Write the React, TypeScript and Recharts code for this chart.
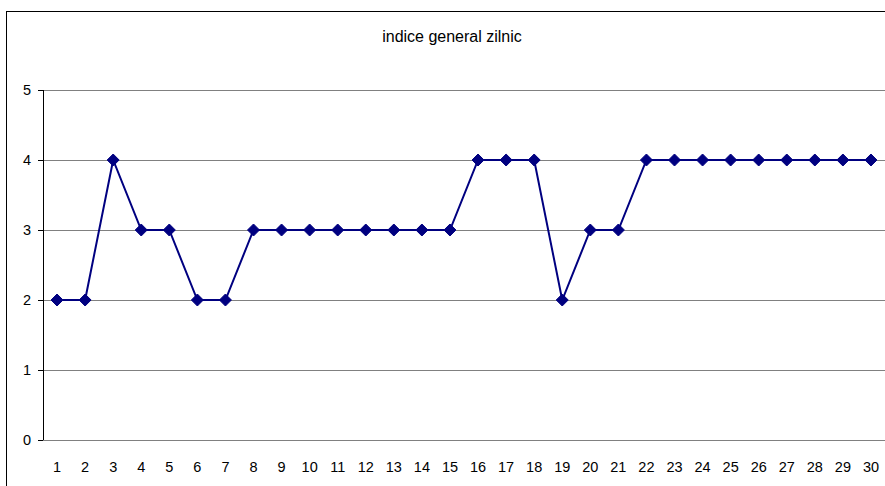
import { CartesianGrid, Line, LineChart, XAxis, YAxis } from "recharts";

const days = [
  1, 2, 3, 4, 5, 6, 7, 8, 9, 10, 11, 12, 13, 14, 15, 16, 17, 18, 19, 20, 21,
  22, 23, 24, 25, 26, 27, 28, 29, 30,
];
const indexValues = [
  2, 2, 4, 3, 3, 2, 2, 3, 3, 3, 3, 3, 3, 3, 3, 4, 4, 4, 2, 3, 3, 4, 4, 4, 4, 4,
  4, 4, 4, 4,
];
const yTicks = [0, 1, 2, 3, 4, 5];
const title = "indice general zilnic";

const data = days.map((d, i) => ({ day: d, value: indexValues[i] }));
// tick marks sit between the categories, like the spreadsheet original
const boundaryTicks = [0, ...days].map((d) => d + 0.5);

const FONT = "'Liberation Sans', Arial, sans-serif";
const NAVY = "#000080";
const TICK_FONT = 14.5;

function Diamond(props: any) {
  const { cx, cy } = props;
  if (cx == null || cy == null) return null;
  const r = 6;
  return (
    <path
      d={`M${cx},${cy - r}L${cx + r},${cy}L${cx},${cy + r}L${cx - r},${cy}Z`}
      fill={NAVY}
      stroke={NAVY}
      strokeWidth={1}
    />
  );
}

export default function App() {
  return (
    <div
      style={{
        position: "fixed",
        left: 0,
        top: 0,
        width: 885,
        height: 486,
        overflow: "hidden",
        background: "#fff",
        fontFamily: FONT,
      }}
    >
      <style>{`
        .recharts-cartesian-grid line,
        .recharts-cartesian-axis line { shape-rendering: crispEdges; }
        .recharts-cartesian-axis-tick-value { font-size: ${TICK_FONT}px; }
      `}</style>
      <div
        style={{
          position: "absolute",
          left: 6,
          top: 11,
          width: 900,
          height: 500,
          border: "1px solid #000",
        }}
      />
      <div
        style={{
          position: "absolute",
          left: 0,
          top: 28,
          width: 904,
          textAlign: "center",
          fontSize: 16,
          color: "#000",
        }}
      >
        {title}
      </div>
      <div style={{ position: "absolute", left: 0, top: 0 }}>
        <LineChart
          width={885}
          height={486}
          data={data}
          margin={{ top: 90, right: 0, bottom: 0, left: 0 }}
        >
          <CartesianGrid
            horizontal
            vertical={false}
            stroke="#808080"
            strokeWidth={1}
          />
          <XAxis
            xAxisId="labels"
            dataKey="day"
            type="number"
            domain={[0.5, 30.5]}
            ticks={days}
            interval={0}
            axisLine={false}
            tickLine={false}
            tickSize={6}
            tickMargin={16}
            height={46}
            fontSize={TICK_FONT}
            tick={{ fill: "#000", fontSize: TICK_FONT, fontFamily: FONT }}
          />
          <XAxis
            xAxisId="marks"
            dataKey="day"
            type="number"
            domain={[0.5, 30.5]}
            ticks={boundaryTicks}
            interval={0}
            axisLine={{ stroke: "#000", strokeWidth: 1 }}
            tickLine={{ stroke: "#000" }}
            tickSize={5}
            tick={false}
            height={0}
          />
          <YAxis
            type="number"
            domain={[0, 5]}
            ticks={yTicks}
            interval={0}
            width={43}
            axisLine={{ stroke: "#000" }}
            tickLine={{ stroke: "#000" }}
            tickSize={5}
            tickMargin={7}
            fontSize={TICK_FONT}
            tick={{ fill: "#000", fontSize: TICK_FONT, fontFamily: FONT }}
          />
          <Line
            xAxisId="labels"
            type="linear"
            dataKey="value"
            stroke={NAVY}
            strokeWidth={2}
            dot={<Diamond />}
            activeDot={false}
            isAnimationActive={false}
          />
        </LineChart>
      </div>
    </div>
  );
}
